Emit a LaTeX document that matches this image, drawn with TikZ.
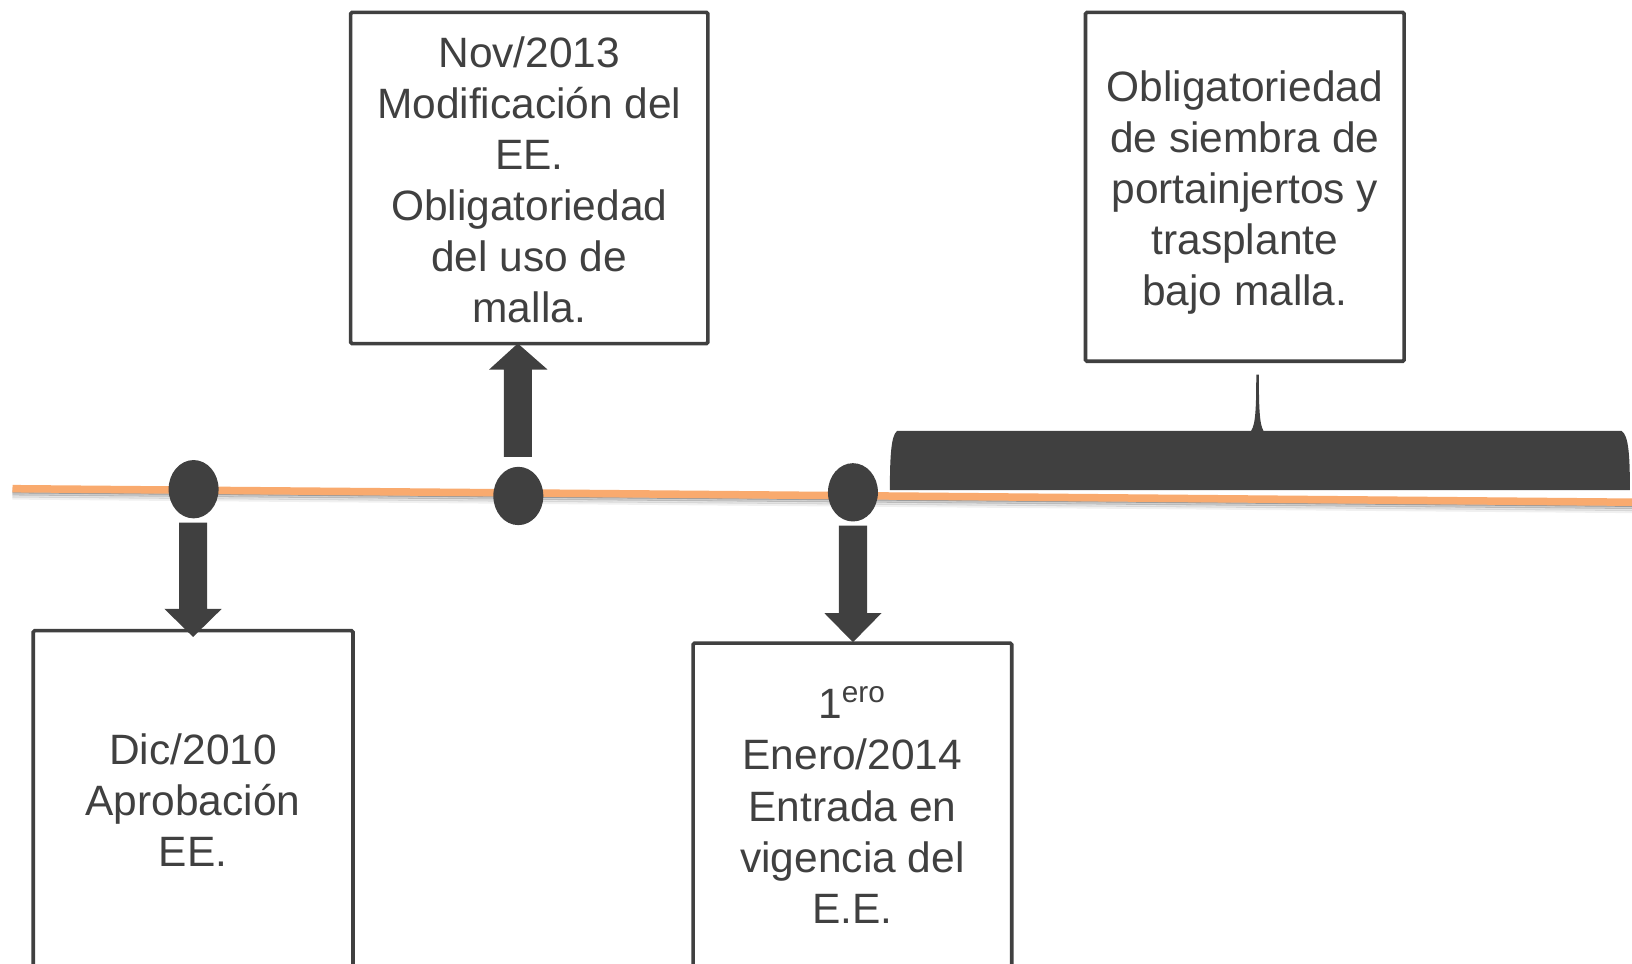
\documentclass[tikz,border=0pt]{standalone}
\usepackage{fontspec}
\setmainfont{Liberation Sans}
\usetikzlibrary{shapes.geometric}
\definecolor{dk}{HTML}{404040}
\definecolor{org}{HTML}{F9AA6E}
\tikzset{
  box/.style={draw=dk, line width=0.035cm, fill=white, inner sep=0pt, rounded corners=0.4pt},
  txt/.style={align=center, text=dk, font=\fontsize{11.6}{13.95}\selectfont, inner sep=0pt},
  dot/.style={ellipse, fill=dk, inner sep=0pt, minimum width=0.48cm, minimum height=0.56cm},
  blk/.style={fill=dk},
  shad/.style={line width=0.03cm, black}
}
\begin{document}
\begin{tikzpicture}[x=0.01cm,y=-0.01cm]
\clip (0,0) rectangle (1568,926);
\fill[white] (0,0) rectangle (1568,926);
% timeline with soft shadow
\draw[shad, opacity=0.06] (12,478.5) -- (1568,491.5);
\draw[shad, opacity=0.10] (12,476.5) -- (1568,489.5);
\draw[shad, opacity=0.18] (12,474.5) -- (1568,487.5);
\draw[shad, opacity=0.25] (12,472.5) -- (1568,485.5);
\draw[line width=0.072cm, org] (12,469.5) -- (1568,482.5);
% boxes
\node[box, minimum width=3.43cm, minimum height=3.18cm] (A) at (508.5,171) {};
\node[txt] (At) at (508.5,173)
  {Nov/2013\\Modificación del\\EE.\\Obligatoriedad\\del uso de\\malla.};
\node[box, minimum width=3.06cm, minimum height=3.35cm] (B) at (1196,179.5) {};
\node[txt] (Bt) at (1196,185)
  {Obligatoriedad\\de siembra de\\portainjertos y\\trasplante\\bajo malla.};
\node[box, minimum width=3.07cm, minimum height=3.26cm] (C) at (185.5,769) {};
\node[txt] (Ct) at (185.5,769) {Dic/2010\\Aprobación\\EE.};
\node[box, minimum width=3.06cm, minimum height=3.14cm] (D) at (819,775) {};
\node[txt] (Dt) at (819,773.5)
  {1\textsuperscript{ero}\\Enero/2014\\Entrada en\\vigencia del\\E.E.};
% dots
\node[dot] (c1) at (186,470) {};
\node[dot] (c2) at (498,476.5) {};
\node[dot] (c3) at (819.5,473) {};
% block arrows
\fill[blk] (172,502) -- (199,502) -- (199,585) -- (213,585) -- (185.5,612) -- (158,585) -- (172,585) -- cycle;
\fill[blk] (484,439) -- (511,439) -- (511,355) -- (526,355) -- (497.5,330) -- (470,355) -- (484,355) -- cycle;
\fill[blk] (806,505) -- (833,505) -- (833,589) -- (847,589) -- (819.5,617) -- (792,589) -- (806,589) -- cycle;
% brace
\fill[dk] (855,471) -- (1566,471) .. controls (1566,440) and (1565,418) .. (1558,414)
  -- (1214,414) .. controls (1210,408) and (1209.5,390) .. (1209.5,360)
  -- (1207,360) .. controls (1207,390) and (1206.5,408) .. (1202,414)
  -- (862,414) .. controls (856,418) and (855,440) .. (855,471) -- cycle;
\end{tikzpicture}
\end{document}
